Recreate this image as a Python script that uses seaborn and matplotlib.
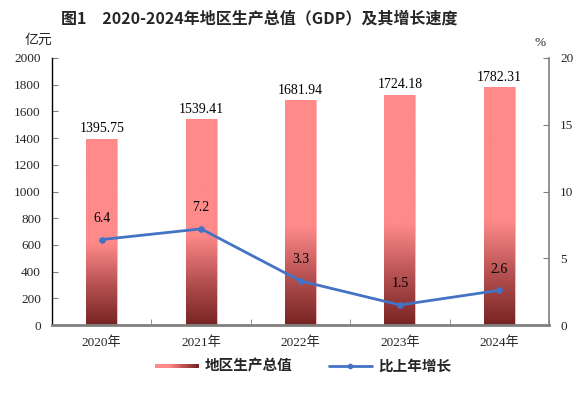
import numpy as np
import pandas as pd
import matplotlib
matplotlib.use("Agg")
import matplotlib.pyplot as plt
import seaborn as sns
from matplotlib.colors import LinearSegmentedColormap
from matplotlib.patches import Rectangle
from matplotlib.lines import Line2D
from matplotlib.legend_handler import HandlerBase

years = ["2020年", "2021年", "2022年", "2023年", "2024年"]
gdp = [1395.75, 1539.41, 1681.94, 1724.18, 1782.31]
growth = [6.4, 7.2, 3.3, 1.5, 2.6]
gdp_labels = ["1395.75", "1539.41", "1681.94", "1724.18", "1782.31"]
growth_labels = ["6.4", "7.2", "3.3", "1.5", "2.6"]

sns.set_style("white")
plt.rcParams['font.family'] = ['Liberation Serif', 'Noto Sans CJK SC', 'DejaVu Sans']
plt.rcParams['axes.unicode_minus'] = False

PINK = "#FF8A8A"
DARK = "#782424"
BLUE = "#4472C4"

df = pd.DataFrame({"year": years, "gdp": gdp, "growth": growth})

fig = plt.figure(figsize=(5.86, 3.97), dpi=100)
ax = fig.add_axes([52/586, 1-325/397, (549-52)/586, (325-58)/397])

sns.barplot(data=df, x="year", y="gdp", ax=ax, color=PINK, width=0.31,
            saturation=1, edgecolor="#FFB0B0", linewidth=0.6)
ax.set_ylim(0, 2000)
ax.set_xlim(-0.5, 4.5)

# gradient overlay on bars: bottom ~44% darkens
cmap = LinearSegmentedColormap.from_list(
    "g", list(zip([0.0, 0.2, 0.44, 1.0], [DARK, "#B24E4E", PINK, PINK])))
grad = np.linspace(0, 1, 256).reshape(-1, 1)
for p in ax.patches:
    x0, y0 = p.get_x(), p.get_y()
    w, h = p.get_width(), p.get_height()
    im = ax.imshow(grad, cmap=cmap, origin="lower", aspect="auto",
                   extent=[x0, x0 + w, y0, y0 + h], zorder=p.get_zorder() + 0.1)
    im.set_clip_path(p)
ax.set_xlim(-0.5, 4.5)
ax.set_ylim(0, 2000)

for i, p in enumerate(ax.patches):
    ax.text(p.get_x() + p.get_width()/2, p.get_height() + 25, gdp_labels[i],
            ha="center", va="bottom", fontsize=10, color="black")

ax.set_yticks(np.arange(0, 2001, 200))
ax.set_xlabel("")
ax.set_ylabel("")
ax.tick_params(axis="y", direction="in", length=4, labelsize=9.5, pad=8,
               left=True, color="#808080")
ax.tick_params(axis="x", length=0, labelsize=9.5, pad=8)
ax.set_xticks(np.arange(-0.5, 4.6, 1.0), minor=True)
ax.tick_params(axis="x", which="minor", direction="in", length=4,
               bottom=True, color="#808080")
ax.spines["left"].set_color("black")
ax.spines["left"].set_linewidth(1)
ax.spines["bottom"].set_color("#808080")
ax.spines["bottom"].set_linewidth(2)
ax.spines["top"].set_visible(False)
ax.spines["right"].set_visible(False)

ax2 = ax.twinx()
sns.lineplot(data=df, x="year", y="growth", ax=ax2, color=BLUE, linewidth=2,
             marker="o", markersize=4, markeredgecolor=BLUE, sort=False)
ax2.set_ylim(0, 20)
ax2.set_yticks([0, 5, 10, 15, 20])
ax2.set_ylabel("")
ax2.tick_params(axis="y", direction="in", length=4, labelsize=9.5, pad=8,
                right=True, color="#808080")
for s in ["left", "top", "bottom"]:
    ax2.spines[s].set_visible(False)
ax2.spines["right"].set_color("#808080")
ax2.spines["right"].set_linewidth(1.2)
ax2.set_xlim(-0.5, 4.5)

for i, v in enumerate(growth):
    ax2.text(i, v + 1.1, growth_labels[i], ha="center", va="bottom",
             fontsize=10, color="black")

fig.text(259/586, 1-18/397, "图1\u30002020-2024年地区生产总值（GDP）及其增长速度",
         ha="center", va="center", fontsize=11.5, fontweight="bold",
         family=['Noto Sans CJK SC', 'DejaVu Sans'])
fig.text(38/586, 1-40/397, "亿元", ha="center", va="center", fontsize=10,
         family=['Noto Sans CJK SC', 'DejaVu Sans'])
fig.text(540/586, 1-43/397, "%", ha="center", va="center", fontsize=9.5)


class GradHandler(HandlerBase):
    def create_artists(self, legend, orig_handle, xdescent, ydescent,
                       width, height, fontsize, trans):
        arts = []
        n = 20
        cm = LinearSegmentedColormap.from_list("l", [PINK, PINK, "#C05050", DARK])
        hh = height * 0.45
        for k in range(n):
            r = Rectangle((-xdescent + width * k / n, -ydescent + (height - hh) / 2),
                          width / n + 0.3, hh, facecolor=cm(k / (n - 1)),
                          edgecolor="none", transform=trans)
            arts.append(r)
        return arts


bar_handle = Rectangle((0, 0), 1, 1, facecolor=PINK)
line_handle = Line2D([], [], color=BLUE, linewidth=2, marker="o", markersize=3)
fig.legend([bar_handle, line_handle], ["地区生产总值", "比上年增长"],
           handler_map={Rectangle: GradHandler()},
           loc="center", bbox_to_anchor=(303/586, 1-366/397), ncol=2,
           frameon=False, handlelength=3, handletextpad=0.4, columnspacing=2.5,
           prop={'family': ['Noto Sans CJK SC', 'DejaVu Sans'], 'size': 10.5,
                 'weight': 'bold'})

fig.savefig("out.png", dpi=100)
